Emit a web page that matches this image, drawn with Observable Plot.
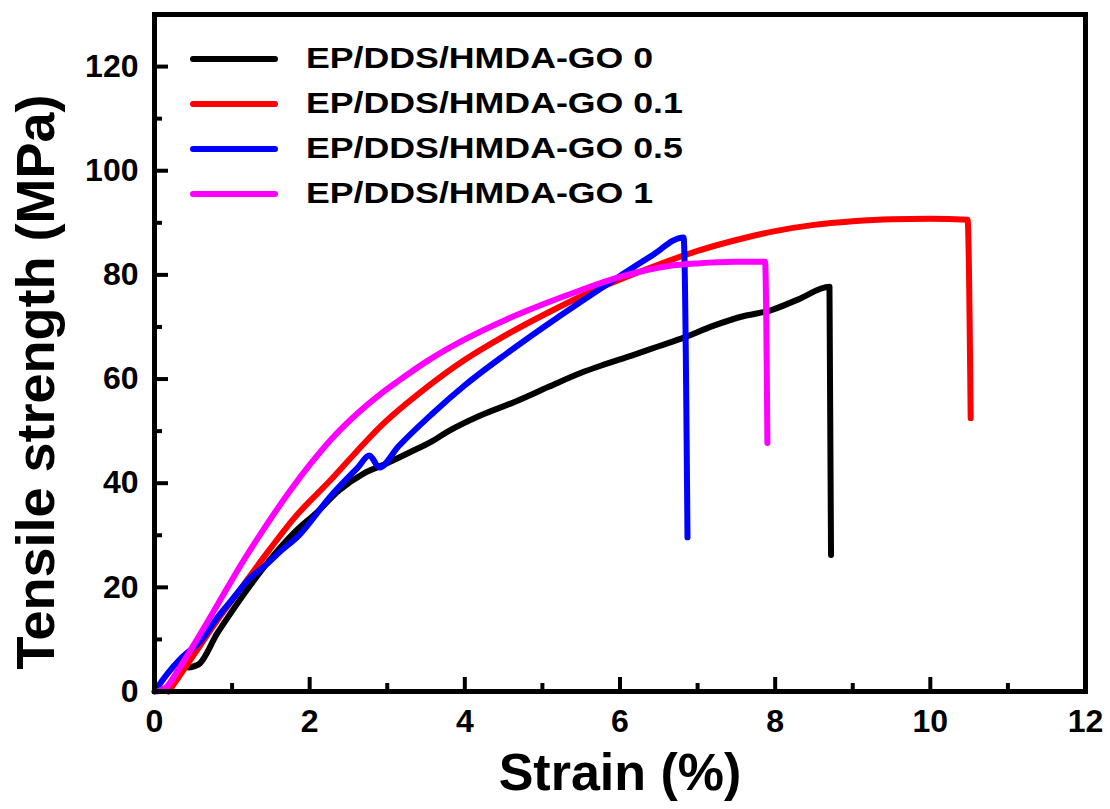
<!DOCTYPE html>
<html>
<head>
<meta charset="utf-8">
<script src="https://cdn.jsdelivr.net/npm/d3@7"></script>
<script src="https://cdn.jsdelivr.net/npm/@observablehq/plot@0.6"></script>
<style>
  html, body { margin: 0; padding: 0; background: #fff; }
  #wrap { position: relative; width: 1110px; height: 809px; font-family: "Liberation Sans", Arial, sans-serif; }
  .lg-line { position: absolute; height: 6px; border-radius: 3px; }
  .lg-text { position: absolute; font-weight: bold; font-size: 30px; line-height: 30px; color: #000; white-space: nowrap; transform: scaleX(1.19); transform-origin: left center; }
</style>
</head>
<body>
<div id="wrap"></div>
<script>
// Series names and colours
const seriesNames = ["EP/DDS/HMDA-GO 0", "EP/DDS/HMDA-GO 0.1", "EP/DDS/HMDA-GO 0.5", "EP/DDS/HMDA-GO 1"];
const seriesColors = ["#000000", "#ff0000", "#0000ff", "#ff00ff"];

// EP/DDS/HMDA-GO 0 (black)
const strain0 = [0.44, 0.57, 0.81, 0.98, 1.24, 1.5, 1.8, 2.1, 2.37, 2.7, 2.96, 3.3, 3.57, 3.79, 4.2, 4.64, 5.08, 5.5, 5.76, 6.15, 6.5, 6.83, 7.2, 7.6, 7.92, 8.3, 8.7, 8.72];
const stress0 = [4.6, 5.2, 11.2, 15, 20.5, 25.5, 30.5, 34.5, 38.5, 41.9, 43.6, 46, 48, 50, 53, 55.6, 58.5, 61.2, 62.6, 64.5, 66.3, 68, 70.2, 72.1, 73.1, 75.3, 77.7, 26.2];

// EP/DDS/HMDA-GO 0.1 (red)
const strain1 = [0.18, 0.3, 0.55, 0.8, 1.15, 1.41, 1.8, 2.27, 2.6, 2.92, 3.5, 4.0, 4.5, 5.0, 5.5, 6.0, 6.5, 7.0, 7.5, 8.0, 8.5, 9.0, 9.5, 10.0, 10.48, 10.52];
const stress1 = [0, 2.5, 8, 13.5, 20.5, 25.8, 33.3, 40.6, 46, 51, 58.3, 63.7, 68.2, 72.2, 75.9, 79.1, 82, 84.6, 86.7, 88.4, 89.6, 90.3, 90.7, 90.8, 90.6, 52.5];

// EP/DDS/HMDA-GO 0.5 (blue)
const strain2 = [0, 0.17, 0.35, 0.6, 0.8, 1.02, 1.2, 1.46, 1.63, 1.85, 2.27, 2.62, 2.77, 2.9, 3.14, 3.57, 4.0, 4.53, 5.0, 5.5, 6.0, 6.4, 6.82, 6.87];
const stress2 = [0, 3.5, 6.5, 9.8, 14, 18, 21.3, 24.6, 27, 29.8, 37.5, 43, 45.3, 43, 47, 53.2, 58.8, 64.8, 69.8, 74.9, 79.8, 83.6, 87.2, 29.6];

// EP/DDS/HMDA-GO 1 (magenta)
const strain3 = [0.03, 0.15, 0.3, 0.5, 0.72, 0.95, 1.15, 1.4, 1.76, 2.0, 2.27, 2.6, 2.92, 3.14, 3.5, 4.0, 4.53, 5.0, 5.5, 6.0, 6.63, 7.0, 7.48, 7.87, 7.9];
const stress3 = [0, 0.8, 4, 8.8, 14.3, 20.2, 25.2, 31, 38.8, 43.5, 48.3, 53.2, 57.2, 59.6, 63.3, 67.6, 71.4, 74.3, 77.1, 79.6, 81.7, 82.2, 82.5, 82.5, 47.7];

// Axis ticks
const xMajor = [0, 2, 4, 6, 8, 10, 12];
const xMinor = [1, 3, 5, 7, 9, 11];
const yMajor = [0, 20, 40, 60, 80, 100, 120];
const yMinor = [10, 30, 50, 70, 90, 110];

const xTitle = "Strain (%)";
const yTitle = "Tensile strength (MPa)";

const strains = [strain0, strain1, strain2, strain3];
const stresses = [stress0, stress1, stress2, stress3];
const rows = strains.map((s, i) => s.map((x, j) => ({strain: x, stress: stresses[i][j], series: seriesNames[i]})));

const font = {fontSize: 32, fontWeight: "bold"};

const chart = Plot.plot({
  width: 1110,
  height: 809,
  marginLeft: 154,
  marginRight: 25,
  marginTop: 14,
  marginBottom: 118,
  style: {fontFamily: "'Liberation Sans', Arial, sans-serif", background: "#fff", color: "#000"},
  x: {domain: [0, 12]},
  y: {domain: [0, 130]},
  marks: [
    ...rows.map((r, i) => Plot.line(r, {x: "strain", y: "stress", stroke: seriesColors[i], strokeWidth: 6, strokeLinejoin: "round", strokeLinecap: "round", curve: "monotone-x"})),
    Plot.axisX({ticks: xMajor, tickSize: -14, strokeWidth: 4, tickFormat: () => "", label: null}),
    Plot.axisX({ticks: xMinor, tickSize: -8, strokeWidth: 4, tickFormat: () => "", label: null}),
    Plot.axisX({ticks: xMajor, tickSize: 0, tickPadding: 18, tickFormat: d => String(d), label: null, ...font}),
    Plot.axisY({ticks: yMajor, tickSize: -14, strokeWidth: 4, tickFormat: () => "", label: null}),
    Plot.axisY({ticks: yMinor, tickSize: -8, strokeWidth: 4, tickFormat: () => "", label: null}),
    Plot.axisY({ticks: yMajor, tickSize: 0, tickPadding: 16, tickFormat: d => String(d), label: null, ...font}),
    Plot.frame({stroke: "#000", strokeWidth: 5}),
    Plot.text([xTitle], {text: d => d, frameAnchor: "bottom", dy: 82, fontSize: 52, fontWeight: "bold", textAnchor: "middle", lineAnchor: "middle"}),
    Plot.text([yTitle], {text: d => d, frameAnchor: "left", rotate: -90, dx: -118, dy: 29, fontSize: 54, fontWeight: "bold", textAnchor: "middle", lineAnchor: "middle"})
  ]
});

const wrap = document.getElementById("wrap");
wrap.appendChild(chart);

// Legend overlay (inside the plot area, top-left)
seriesNames.forEach((name, i) => {
  const cy = 59 + i * 45;
  const ln = document.createElement("div");
  ln.className = "lg-line";
  ln.style.left = "190px";
  ln.style.width = "88px";
  ln.style.top = (cy - 3) + "px";
  ln.style.background = seriesColors[i];
  wrap.appendChild(ln);
  const tx = document.createElement("div");
  tx.className = "lg-text";
  tx.style.left = "306px";
  tx.style.top = (cy - 16) + "px";
  tx.textContent = name;
  wrap.appendChild(tx);
});
</script>
</body>
</html>
